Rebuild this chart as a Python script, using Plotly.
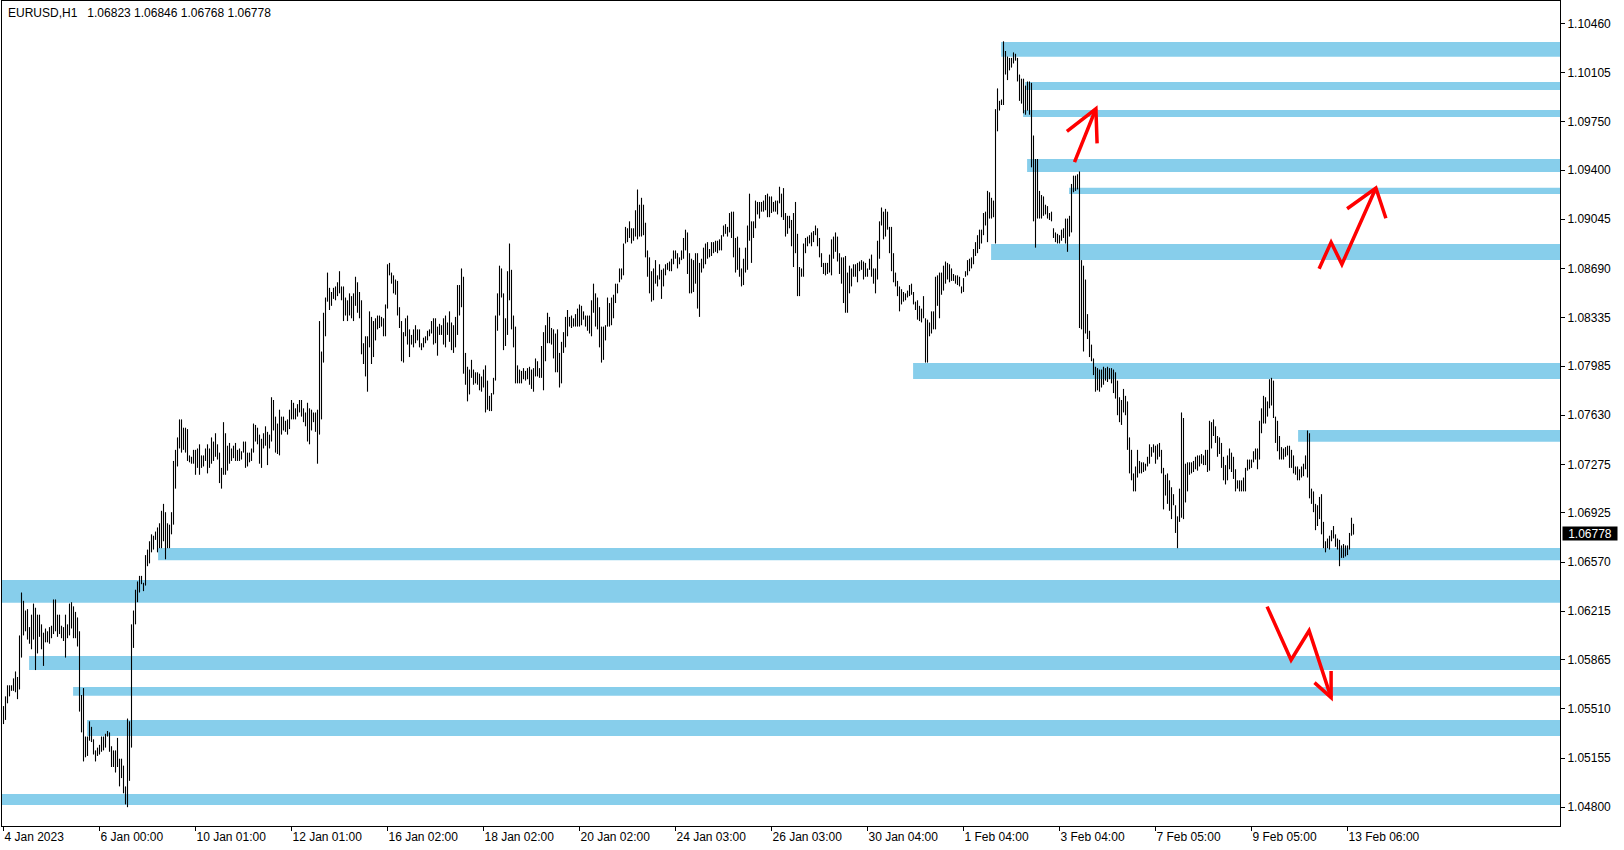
import plotly.graph_objects as go

# ---------------- data ----------------
symbol_header = "EURUSD,H1\u00a0\u00a0 1.06823 1.06846 1.06768 1.06778"
last_close = 1.06778

# hourly bar highs / lows (bar index 0 = 4 Jan 2023)
bar_high = [
    1.0553, 1.0560, 1.0568, 1.0568, 1.0568, 1.0573, 1.0578, 1.0574, 1.0604, 1.0635,  # 0
    1.0629, 1.0622, 1.0623, 1.0610, 1.0619, 1.0627, 1.0624, 1.0619, 1.0619, 1.0612,  # 10
    1.0606, 1.0609, 1.0607, 1.0610, 1.0611, 1.0630, 1.0630, 1.0619, 1.0619, 1.0611,  # 20
    1.0610, 1.0619, 1.0612, 1.0627, 1.0628, 1.0625, 1.0621, 1.0617, 1.0607, 1.0561,  # 30
    1.0566, 1.0531, 1.0531, 1.0542, 1.0538, 1.0529, 1.0521, 1.0523, 1.0525, 1.0531,  # 40
    1.0531, 1.0533, 1.0535, 1.0534, 1.0524, 1.0521, 1.0521, 1.0530, 1.0515, 1.0515,  # 50
    1.0510, 1.0495, 1.0544, 1.0542, 1.0612, 1.0622, 1.0637, 1.0643, 1.0647, 1.0647,  # 60
    1.0642, 1.0662, 1.0666, 1.0672, 1.0677, 1.0676, 1.0679, 1.0682, 1.0685, 1.0694,  # 70
    1.0699, 1.0693, 1.0685, 1.0684, 1.0693, 1.0730, 1.0738, 1.0747, 1.0760, 1.0760,  # 80
    1.0754, 1.0754, 1.0753, 1.0734, 1.0733, 1.0738, 1.0738, 1.0739, 1.0742, 1.0734,  # 90
    1.0734, 1.0739, 1.0742, 1.0739, 1.0747, 1.0744, 1.0750, 1.0742, 1.0736, 1.0725,  # 100
    1.0758, 1.0750, 1.0741, 1.0743, 1.0739, 1.0741, 1.0743, 1.0738, 1.0739, 1.0737,  # 110
    1.0744, 1.0744, 1.0736, 1.0736, 1.0739, 1.0757, 1.0756, 1.0754, 1.0749, 1.0746,  # 120
    1.0750, 1.0755, 1.0751, 1.0749, 1.0776, 1.0774, 1.0762, 1.0757, 1.0767, 1.0762,  # 130
    1.0762, 1.0759, 1.0760, 1.0767, 1.0774, 1.0772, 1.0768, 1.0771, 1.0774, 1.0774,  # 140
    1.0768, 1.0765, 1.0772, 1.0768, 1.0767, 1.0765, 1.0765, 1.0767, 1.0831, 1.0809,  # 150
    1.0837, 1.0848, 1.0866, 1.0855, 1.0852, 1.0855, 1.0856, 1.0859, 1.0867, 1.0856,  # 160
    1.0856, 1.0848, 1.0846, 1.0851, 1.0849, 1.0851, 1.0863, 1.0859, 1.0852, 1.0846,  # 170
    1.0815, 1.0820, 1.0820, 1.0838, 1.0834, 1.0831, 1.0833, 1.0835, 1.0835, 1.0834,  # 180
    1.0833, 1.0843, 1.0872, 1.0873, 1.0866, 1.0864, 1.0861, 1.0860, 1.0841, 1.0831,  # 190
    1.0823, 1.0833, 1.0835, 1.0825, 1.0821, 1.0825, 1.0828, 1.0825, 1.0825, 1.0815,  # 200
    1.0819, 1.0820, 1.0824, 1.0825, 1.0831, 1.0833, 1.0833, 1.0827, 1.0829, 1.0828,  # 210
    1.0833, 1.0835, 1.0830, 1.0838, 1.0830, 1.0828, 1.0834, 1.0857, 1.0857, 1.0869,  # 220
    1.0863, 1.0808, 1.0798, 1.0796, 1.0803, 1.0796, 1.0794, 1.0794, 1.0793, 1.0791,  # 230
    1.0796, 1.0799, 1.0788, 1.0777, 1.0779, 1.0790, 1.0835, 1.0851, 1.0871, 1.0869,  # 240
    1.0851, 1.0833, 1.0867, 1.0887, 1.0868, 1.0835, 1.0827, 1.0799, 1.0796, 1.0795,  # 250
    1.0797, 1.0795, 1.0797, 1.0798, 1.0796, 1.0797, 1.0804, 1.0802, 1.0797, 1.0813,  # 260
    1.0823, 1.0828, 1.0837, 1.0834, 1.0826, 1.0825, 1.0822, 1.0825, 1.0808, 1.0816,  # 270
    1.0823, 1.0834, 1.0839, 1.0834, 1.0835, 1.0833, 1.0836, 1.0840, 1.0843, 1.0842,  # 280
    1.0838, 1.0835, 1.0835, 1.0835, 1.0846, 1.0858, 1.0851, 1.0848, 1.0841, 1.0827,  # 290
    1.0827, 1.0828, 1.0848, 1.0844, 1.0848, 1.0850, 1.0858, 1.0858, 1.0869, 1.0869,  # 300
    1.0887, 1.0899, 1.0898, 1.0903, 1.0898, 1.0898, 1.0911, 1.0926, 1.0915, 1.0920,  # 310
    1.0915, 1.0902, 1.0882, 1.0877, 1.0867, 1.0869, 1.0875, 1.0864, 1.0872, 1.0868,  # 320
    1.0869, 1.0872, 1.0873, 1.0874, 1.0876, 1.0882, 1.0882, 1.0880, 1.0877, 1.0882,  # 330
    1.0891, 1.0897, 1.0895, 1.0880, 1.0876, 1.0875, 1.0880, 1.0880, 1.0873, 1.0876,  # 340
    1.0884, 1.0887, 1.0888, 1.0883, 1.0888, 1.0888, 1.0889, 1.0889, 1.0890, 1.0893,  # 350
    1.0900, 1.0901, 1.0899, 1.0909, 1.0910, 1.0910, 1.0891, 1.0892, 1.0884, 1.0869,  # 360
    1.0876, 1.0884, 1.0900, 1.0923, 1.0903, 1.0903, 1.0918, 1.0917, 1.0917, 1.0917,  # 370
    1.0918, 1.0922, 1.0923, 1.0921, 1.0921, 1.0917, 1.0918, 1.0918, 1.0928, 1.0923,  # 380
    1.0927, 1.0909, 1.0907, 1.0907, 1.0904, 1.0909, 1.0917, 1.0894, 1.0870, 1.0869,  # 390
    1.0887, 1.0891, 1.0892, 1.0893, 1.0895, 1.0896, 1.0900, 1.0898, 1.0891, 1.0880,  # 400
    1.0873, 1.0873, 1.0873, 1.0879, 1.0890, 1.0892, 1.0895, 1.0892, 1.0880, 1.0877,  # 410
    1.0877, 1.0878, 1.0866, 1.0871, 1.0869, 1.0872, 1.0872, 1.0873, 1.0874, 1.0875,  # 420
    1.0874, 1.0873, 1.0869, 1.0876, 1.0879, 1.0869, 1.0869, 1.0889, 1.0903, 1.0913,  # 430
    1.0910, 1.0912, 1.0910, 1.0899, 1.0899, 1.0880, 1.0866, 1.0860, 1.0856, 1.0854,  # 440
    1.0852, 1.0851, 1.0853, 1.0857, 1.0858, 1.0852, 1.0845, 1.0846, 1.0842, 1.0840,  # 450
    1.0849, 1.0833, 1.0832, 1.0830, 1.0838, 1.0838, 1.0863, 1.0864, 1.0866, 1.0866,  # 460
    1.0871, 1.0874, 1.0873, 1.0872, 1.0869, 1.0865, 1.0864, 1.0864, 1.0863, 1.0856,  # 470
    1.0862, 1.0867, 1.0875, 1.0876, 1.0877, 1.0883, 1.0888, 1.0893, 1.0897, 1.0897,  # 480
    1.0909, 1.0910, 1.0925, 1.0924, 1.0920, 1.0918, 1.0984, 1.0999, 1.0990, 1.0991,  # 490
    1.1033, 1.1026, 1.1022, 1.1021, 1.1021, 1.1025, 1.1024, 1.1021, 1.1009, 1.1006,  # 500
    1.1006, 1.1001, 1.1004, 1.1004, 1.1003, 1.0965, 1.0948, 1.0948, 1.0925, 1.0922,  # 510
    1.0921, 1.0915, 1.0914, 1.0909, 1.0910, 1.0898, 1.0895, 1.0894, 1.0893, 1.0897,  # 520
    1.0898, 1.0905, 1.0905, 1.0907, 1.0930, 1.0936, 1.0936, 1.0937, 1.0939, 1.0875,  # 530
    1.0871, 1.0861, 1.0836, 1.0824, 1.0814, 1.0804, 1.0798, 1.0797, 1.0796, 1.0796,  # 540
    1.0798, 1.0797, 1.0798, 1.0797, 1.0797, 1.0796, 1.0794, 1.0788, 1.0776, 1.0774,  # 550
    1.0782, 1.0777, 1.0773, 1.0747, 1.0738, 1.0721, 1.0726, 1.0738, 1.0730, 1.0729,  # 560
    1.0729, 1.0728, 1.0733, 1.0742, 1.0740, 1.0742, 1.0741, 1.0742, 1.0743, 1.0738,  # 570
    1.0725, 1.0720, 1.0721, 1.0716, 1.0711, 1.0706, 1.0698, 1.0690, 1.0710, 1.0765,  # 580
    1.0761, 1.0728, 1.0729, 1.0729, 1.0729, 1.0730, 1.0733, 1.0734, 1.0734, 1.0735,  # 590
    1.0734, 1.0738, 1.0738, 1.0759, 1.0758, 1.0760, 1.0755, 1.0748, 1.0747, 1.0743,  # 600
    1.0733, 1.0727, 1.0734, 1.0739, 1.0736, 1.0733, 1.0724, 1.0716, 1.0716, 1.0716,  # 610
    1.0718, 1.0725, 1.0731, 1.0731, 1.0731, 1.0737, 1.0739, 1.0739, 1.0759, 1.0768,  # 620
    1.0777, 1.0776, 1.0773, 1.0789, 1.0790, 1.0788, 1.0762, 1.0759, 1.0748, 1.0740,  # 630
    1.0739, 1.0740, 1.0741, 1.0741, 1.0738, 1.0734, 1.0726, 1.0726, 1.0724, 1.0726,  # 640
    1.0728, 1.0734, 1.0752, 1.0750, 1.0710, 1.0708, 1.0699, 1.0698, 1.0704, 1.0706,  # 650
    1.0686, 1.0672, 1.0674, 1.0676, 1.0680, 1.0683, 1.0677, 1.0674, 1.0673, 1.0669,  # 660
    1.0670, 1.0669, 1.0669, 1.0678, 1.0689, 1.06846,                                 # 670
]
bar_low = [
    1.0540, 1.0543, 1.0555, 1.0560, 1.0564, 1.0564, 1.0563, 1.0558, 1.0565, 1.0588,  # 0
    1.0604, 1.0607, 1.0601, 1.0598, 1.0594, 1.0601, 1.0579, 1.0591, 1.0603, 1.0594,  # 10
    1.0582, 1.0599, 1.0599, 1.0598, 1.0602, 1.0605, 1.0607, 1.0603, 1.0605, 1.0602,  # 20
    1.0600, 1.0588, 1.0602, 1.0604, 1.0609, 1.0602, 1.0602, 1.0596, 1.0549, 1.0534,  # 30
    1.0513, 1.0516, 1.0517, 1.0528, 1.0527, 1.0518, 1.0513, 1.0517, 1.0518, 1.0520,  # 40
    1.0521, 1.0523, 1.0531, 1.0520, 1.0509, 1.0509, 1.0505, 1.0509, 1.0495, 1.0501,  # 50
    1.0490, 1.0482, 1.0480, 1.0499, 1.0523, 1.0595, 1.0612, 1.0628, 1.0635, 1.0641,  # 60
    1.0636, 1.0640, 1.0654, 1.0656, 1.0664, 1.0666, 1.0673, 1.0664, 1.0667, 1.0667,  # 70
    1.0672, 1.0659, 1.0667, 1.0667, 1.0677, 1.0684, 1.0710, 1.0726, 1.0739, 1.0736,  # 80
    1.0738, 1.0736, 1.0730, 1.0729, 1.0728, 1.0728, 1.0720, 1.0725, 1.0720, 1.0725,  # 90
    1.0726, 1.0730, 1.0721, 1.0725, 1.0728, 1.0730, 1.0733, 1.0731, 1.0714, 1.0710,  # 100
    1.0720, 1.0720, 1.0723, 1.0728, 1.0730, 1.0732, 1.0730, 1.0730, 1.0730, 1.0731,  # 110
    1.0736, 1.0725, 1.0726, 1.0729, 1.0730, 1.0736, 1.0744, 1.0742, 1.0728, 1.0725,  # 120
    1.0739, 1.0741, 1.0727, 1.0739, 1.0744, 1.0752, 1.0736, 1.0735, 1.0734, 1.0749,  # 130
    1.0752, 1.0751, 1.0749, 1.0753, 1.0760, 1.0760, 1.0760, 1.0762, 1.0765, 1.0762,  # 140
    1.0758, 1.0755, 1.0744, 1.0742, 1.0752, 1.0758, 1.0751, 1.0728, 1.0749, 1.0760,  # 150
    1.0801, 1.0820, 1.0845, 1.0839, 1.0842, 1.0847, 1.0846, 1.0849, 1.0851, 1.0846,  # 160
    1.0831, 1.0835, 1.0831, 1.0835, 1.0833, 1.0831, 1.0842, 1.0837, 1.0833, 1.0807,  # 170
    1.0800, 1.0791, 1.0780, 1.0812, 1.0800, 1.0805, 1.0817, 1.0825, 1.0826, 1.0827,  # 180
    1.0820, 1.0820, 1.0840, 1.0864, 1.0858, 1.0851, 1.0850, 1.0835, 1.0826, 1.0802,  # 190
    1.0801, 1.0820, 1.0814, 1.0805, 1.0814, 1.0812, 1.0815, 1.0817, 1.0812, 1.0810,  # 200
    1.0812, 1.0815, 1.0817, 1.0820, 1.0822, 1.0814, 1.0815, 1.0806, 1.0821, 1.0821,  # 210
    1.0814, 1.0812, 1.0821, 1.0816, 1.0810, 1.0808, 1.0812, 1.0821, 1.0835, 1.0841,  # 220
    1.0793, 1.0785, 1.0773, 1.0778, 1.0790, 1.0785, 1.0786, 1.0785, 1.0781, 1.0780,  # 230
    1.0783, 1.0765, 1.0767, 1.0766, 1.0766, 1.0778, 1.0788, 1.0824, 1.0835, 1.0848,  # 240
    1.0810, 1.0813, 1.0821, 1.0846, 1.0825, 1.0812, 1.0786, 1.0786, 1.0786, 1.0786,  # 250
    1.0789, 1.0788, 1.0789, 1.0785, 1.0782, 1.0780, 1.0791, 1.0791, 1.0790, 1.0790,  # 260
    1.0781, 1.0802, 1.0815, 1.0815, 1.0814, 1.0804, 1.0794, 1.0794, 1.0783, 1.0786,  # 270
    1.0808, 1.0812, 1.0820, 1.0827, 1.0826, 1.0827, 1.0827, 1.0827, 1.0827, 1.0828,  # 280
    1.0832, 1.0827, 1.0824, 1.0822, 1.0820, 1.0837, 1.0827, 1.0825, 1.0812, 1.0801,  # 290
    1.0803, 1.0817, 1.0827, 1.0827, 1.0828, 1.0833, 1.0844, 1.0851, 1.0859, 1.0861,  # 300
    1.0864, 1.0887, 1.0888, 1.0891, 1.0887, 1.0889, 1.0892, 1.0890, 1.0892, 1.0892,  # 310
    1.0893, 1.0877, 1.0863, 1.0851, 1.0845, 1.0846, 1.0858, 1.0856, 1.0861, 1.0847,  # 320
    1.0856, 1.0864, 1.0868, 1.0867, 1.0867, 1.0872, 1.0876, 1.0869, 1.0872, 1.0875,  # 330
    1.0876, 1.0882, 1.0865, 1.0851, 1.0851, 1.0852, 1.0858, 1.0840, 1.0834, 1.0866,  # 340
    1.0869, 1.0872, 1.0876, 1.0877, 1.0878, 1.0880, 1.0881, 1.0880, 1.0882, 1.0882,  # 350
    1.0892, 1.0894, 1.0892, 1.0895, 1.0891, 1.0877, 1.0866, 1.0868, 1.0863, 1.0856,  # 360
    1.0857, 1.0866, 1.0868, 1.0889, 1.0873, 1.0891, 1.0898, 1.0908, 1.0905, 1.0910,  # 370
    1.0910, 1.0911, 1.0906, 1.0906, 1.0909, 1.0910, 1.0910, 1.0908, 1.0916, 1.0906,  # 380
    1.0904, 1.0892, 1.0894, 1.0898, 1.0885, 1.0870, 1.0880, 1.0849, 1.0849, 1.0863,  # 390
    1.0863, 1.0880, 1.0885, 1.0887, 1.0885, 1.0888, 1.0893, 1.0885, 1.0877, 1.0870,  # 400
    1.0865, 1.0864, 1.0865, 1.0866, 1.0864, 1.0876, 1.0881, 1.0874, 1.0865, 1.0858,  # 410
    1.0844, 1.0837, 1.0837, 1.0851, 1.0856, 1.0863, 1.0863, 1.0859, 1.0867, 1.0868,  # 420
    1.0861, 1.0863, 1.0863, 1.0868, 1.0863, 1.0858, 1.0851, 1.0861, 1.0876, 1.0900,  # 430
    1.0890, 1.0892, 1.0897, 1.0880, 1.0867, 1.0859, 1.0856, 1.0849, 1.0838, 1.0843,  # 440
    1.0845, 1.0846, 1.0848, 1.0849, 1.0850, 1.0843, 1.0839, 1.0832, 1.0831, 1.0830,  # 450
    1.0833, 1.0801, 1.0801, 1.0820, 1.0822, 1.0825, 1.0825, 1.0842, 1.0833, 1.0850,  # 460
    1.0853, 1.0858, 1.0861, 1.0859, 1.0860, 1.0860, 1.0858, 1.0857, 1.0856, 1.0851,  # 470
    1.0852, 1.0863, 1.0864, 1.0867, 1.0869, 1.0872, 1.0878, 1.0880, 1.0883, 1.0887,  # 480
    1.0893, 1.0900, 1.0888, 1.0905, 1.0905, 1.0906, 1.0887, 1.0968, 1.0983, 1.0987,  # 490
    1.0987, 1.1009, 1.1005, 1.1012, 1.1014, 1.1017, 1.1019, 1.1004, 1.0990, 1.0988,  # 500
    1.0981, 1.0980, 1.0983, 1.0980, 1.0942, 1.0903, 1.0884, 1.0905, 1.0905, 1.0905,  # 510
    1.0907, 1.0908, 1.0905, 1.0904, 1.0903, 1.0891, 1.0888, 1.0887, 1.0887, 1.0889,  # 520
    1.0891, 1.0887, 1.0881, 1.0892, 1.0895, 1.0924, 1.0925, 1.0926, 1.0826, 1.0825,  # 530
    1.0809, 1.0822, 1.0818, 1.0805, 1.0802, 1.0792, 1.0780, 1.0781, 1.0780, 1.0783,  # 540
    1.0785, 1.0788, 1.0787, 1.0789, 1.0786, 1.0779, 1.0775, 1.0763, 1.0758, 1.0756,  # 550
    1.0765, 1.0763, 1.0738, 1.0721, 1.0716, 1.0708, 1.0708, 1.0718, 1.0721, 1.0721,  # 560
    1.0722, 1.0723, 1.0726, 1.0728, 1.0733, 1.0736, 1.0728, 1.0731, 1.0733, 1.0721,  # 570
    1.0695, 1.0705, 1.0699, 1.0694, 1.0688, 1.0698, 1.0678, 1.0667, 1.0686, 1.0689,  # 580
    1.0688, 1.0700, 1.0708, 1.0720, 1.0721, 1.0722, 1.0724, 1.0723, 1.0726, 1.0728,  # 590
    1.0727, 1.0727, 1.0722, 1.0723, 1.0739, 1.0748, 1.0743, 1.0733, 1.0735, 1.0725,  # 600
    1.0716, 1.0713, 1.0716, 1.0724, 1.0722, 1.0717, 1.0708, 1.0710, 1.0708, 1.0708,  # 610
    1.0708, 1.0708, 1.0723, 1.0724, 1.0725, 1.0729, 1.0731, 1.0724, 1.0731, 1.0750,  # 620
    1.0757, 1.0757, 1.0762, 1.0768, 1.0770, 1.0761, 1.0743, 1.0737, 1.0731, 1.0731,  # 630
    1.0731, 1.0733, 1.0734, 1.0725, 1.0725, 1.0721, 1.0720, 1.0716, 1.0716, 1.0718,  # 640
    1.0719, 1.0724, 1.0718, 1.0703, 1.0699, 1.0693, 1.0680, 1.0683, 1.0688, 1.0677,  # 650
    1.0667, 1.0664, 1.0667, 1.0666, 1.0672, 1.0674, 1.0668, 1.0666, 1.0654, 1.0660,  # 660
    1.0660, 1.0661, 1.0662, 1.0666, 1.0676, 1.06768,                                 # 670
]

# time axis labels (bar index -> label)
time_tick_bar = [0, 48, 96, 144, 192, 240, 288, 336, 384, 432, 480, 528, 576, 624, 672]
time_tick_text = ["4 Jan 2023", "6 Jan 00:00", "10 Jan 01:00", "12 Jan 01:00", "16 Jan 02:00",
                  "18 Jan 02:00", "20 Jan 02:00", "24 Jan 03:00", "26 Jan 03:00", "30 Jan 04:00",
                  "1 Feb 04:00", "3 Feb 04:00", "7 Feb 05:00", "9 Feb 05:00", "13 Feb 06:00"]

# price axis labels
price_ticks = [1.10460, 1.10105, 1.09750, 1.09400, 1.09045, 1.08690, 1.08335, 1.07985, 1.07630,
               1.07275, 1.06925, 1.06570, 1.06215, 1.05865, 1.05510, 1.05155, 1.04800]
price_tick_text = ["%.5f" % v for v in price_ticks]

# support / resistance zones (start bar, top price, bottom price); None start = from chart start
zone_start_bar = [498.8, 510.8, 509.8, 511.8, 532.8, 493.8, 454.8, 647.3, 77.3, None, 12.8, 34.8, 41.8, None]
zone_top = [1.10325, 1.10036, 1.09834, 1.09480, 1.09273, 1.08866, 1.08007, 1.07523, 1.06671,
            1.06440, 1.05892, 1.05668, 1.05430, 1.04895]
zone_bottom = [1.10219, 1.09978, 1.09783, 1.09386, 1.09227, 1.08751, 1.07892, 1.07439, 1.06583,
               1.06276, 1.05791, 1.05605, 1.05314, 1.04816]

# hand-drawn red arrows (bar index, price): shaft polyline + arrow head polyline
arrow_shaft_bar = [[535.5, 546.2], [657.8, 663.8, 669.2, 686.2], [631.8, 643.8, 652.8, 663.8]]
arrow_shaft_price = [[1.09458, 1.09843], [1.08688, 1.08879, 1.08720, 1.09271],
                     [1.06248, 1.05863, 1.06074, 1.05591]]
arrow_head_bar = [[531.7, 546.2, 546.8], [671.8, 686.2, 691.2], [655.5, 663.8, 663.8]]
arrow_head_price = [[1.09680, 1.09843, 1.09593], [1.09121, 1.09271, 1.09052],
                    [1.05699, 1.05591, 1.05783]]

# view window
X_MIN, X_MAX = -0.75, 778.25
Y_MIN, Y_MAX = 1.04664, 1.10621

ZONE_COLOR = "#87CEEB"
FONT = "Liberation Sans, Arial, sans-serif"

# ---------------- figure ----------------
n = min(len(bar_high), len(bar_low))
seg_x, seg_y = [], []
for i in range(n):
    seg_x += [i, i, None]
    seg_y += [bar_low[i], bar_high[i], None]

fig = go.Figure()
fig.add_trace(go.Scatter(x=seg_x, y=seg_y, mode="lines",
                         line=dict(color="black", width=1.1),
                         hoverinfo="skip", connectgaps=False))

shapes = []
for s, t, b in zip(zone_start_bar, zone_top, zone_bottom):
    shapes.append(dict(type="rect", xref="x", yref="y",
                       x0=X_MIN if s is None else s, x1=X_MAX, y0=b, y1=t,
                       fillcolor=ZONE_COLOR, line=dict(width=0), layer="below"))

def path_of(xs, ys):
    return "M " + " L ".join("%s,%s" % (x, y) for x, y in zip(xs, ys))

for xs, ys in zip(arrow_shaft_bar, arrow_shaft_price):
    shapes.append(dict(type="path", xref="x", yref="y", path=path_of(xs, ys),
                       line=dict(color="#FF0000", width=3.5), layer="above"))
for xs, ys in zip(arrow_head_bar, arrow_head_price):
    shapes.append(dict(type="path", xref="x", yref="y", path=path_of(xs, ys),
                       line=dict(color="#FF0000", width=3.5), layer="above"))

annotations = [
    dict(text=symbol_header, xref="paper", yref="paper", x=0, y=1,
         xanchor="left", yanchor="top", xshift=4, yshift=-3, showarrow=False,
         font=dict(family=FONT, size=12, color="black")),
    dict(text="%.5f" % last_close, xref="paper", yref="y", x=1, y=last_close,
         xanchor="left", yanchor="middle", xshift=2, showarrow=False,
         bgcolor="black", borderpad=1, width=52, height=11,
         font=dict(family=FONT, size=12, color="white")),
]

fig.update_layout(
    width=1624, height=850,
    margin=dict(l=2, r=64, t=1, b=24),
    paper_bgcolor="white", plot_bgcolor="white",
    showlegend=False,
    shapes=shapes, annotations=annotations,
    font=dict(family=FONT, size=12, color="black"),
    xaxis=dict(range=[X_MIN, X_MAX], showgrid=False, zeroline=False,
               showline=True, linecolor="black", linewidth=1, mirror=True,
               ticks="outside", ticklen=4, tickcolor="black",
               tickvals=time_tick_bar, ticktext=time_tick_text,
               ticklabelposition="outside right",
               tickfont=dict(family=FONT, size=12, color="black")),
    yaxis=dict(range=[Y_MIN, Y_MAX], side="right", showgrid=False, zeroline=False,
               showline=True, linecolor="black", linewidth=1, mirror=True,
               ticks="outside", ticklen=4, tickcolor="black",
               tickvals=price_ticks, ticktext=price_tick_text,
               tickfont=dict(family=FONT, size=12, color="black")),
)

fig.write_html("out.html",
               config={"displayModeBar": False},
               post_script="document.body.style.margin='0';document.body.style.overflow='hidden';")
